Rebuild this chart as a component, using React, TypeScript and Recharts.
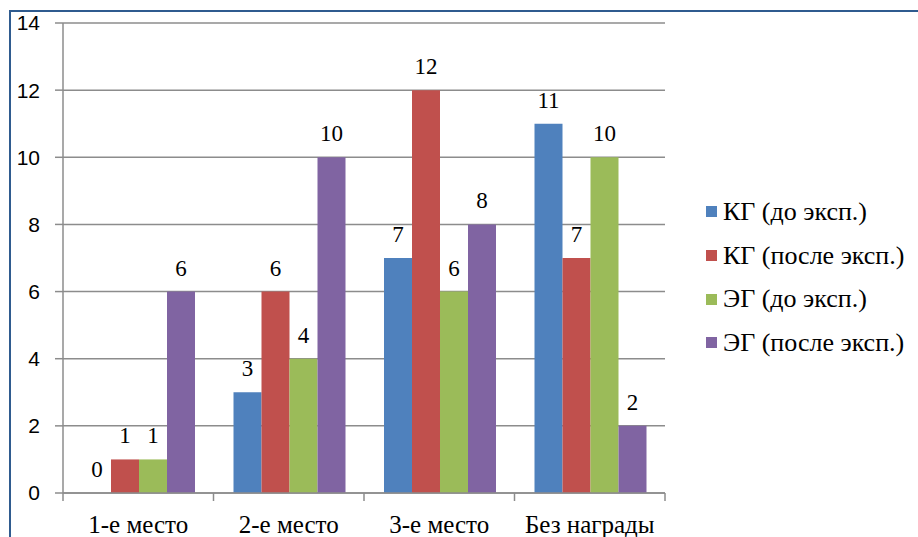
import { BarChart, Bar, XAxis, YAxis, CartesianGrid, Legend, LabelList } from "recharts";

const categories = ["1-е место", "2-е место", "3-е место", "Без награды"];
const kgBefore = [0, 3, 7, 11];
const kgAfter = [1, 6, 12, 7];
const egBefore = [1, 4, 6, 10];
const egAfter = [6, 10, 8, 2];
const seriesNames = ["КГ (до эксп.)", "КГ (после эксп.)", "ЭГ (до эксп.)", "ЭГ (после эксп.)"];
const yTicks = [0, 2, 4, 6, 8, 10, 12, 14];

const colors = ["#4f81bd", "#c0504d", "#9bbb59", "#8064a2"];
const serif = "'Times New Roman', Tinos, serif";
const sans = "'Liberation Sans', Arial, sans-serif";
const gridColor = "#8c8c8c";

const data = categories.map((name, i) => ({
  name,
  s0: kgBefore[i],
  s1: kgAfter[i],
  s2: egBefore[i],
  s3: egAfter[i],
}));

// x tick: label plus Excel-style tick marks between categories
const CategoryTick = (props: any) => {
  const { x, y, payload, index, width, visibleTicksCount } = props;
  const half = (Number(width) || 602) / (visibleTicksCount || 4) / 2;
  return (
    <g>
      <line x1={x - half} x2={x - half} y1={y - 8} y2={y} stroke={gridColor} strokeWidth={1.5} />
      {index === (visibleTicksCount || 4) - 1 && (
        <line x1={x + half} x2={x + half} y1={y - 8} y2={y} stroke={gridColor} strokeWidth={1.5} />
      )}
      <text x={x} y={y} dy={32} textAnchor="middle" style={{ fontFamily: serif }} fontSize={25} fill="#000">
        {payload.value}
      </text>
    </g>
  );
};

const ValueLabel = (props: any) => {
  const { x, y, width, height, value } = props;
  const top = height < 0 ? y + height : y;
  return (
    <text x={x + width / 2} y={top - 16} textAnchor="middle" style={{ fontFamily: serif }} fontSize={23} fill="#000">
      {value}
    </text>
  );
};

const renderLegend = (props: any) => {
  const items = props.payload || [];
  return (
    <div style={{ paddingLeft: 41, fontFamily: serif, fontSize: 26, color: "#000" }}>
      {items.map((it: any) => (
        <div key={it.value} style={{ display: "flex", alignItems: "center", height: 43.7 }}>
          <span style={{ width: 11, height: 11, background: it.color, marginRight: 6, flexShrink: 0 }} />
          <span style={{ whiteSpace: "nowrap" }}>{it.value}</span>
        </div>
      ))}
    </div>
  );
};

export default function App() {
  return (
    <div style={{ position: "absolute", left: 0, top: 0, width: 918, height: 537, background: "#fff", overflow: "hidden" }}>
      <div
        style={{
          position: "absolute",
          left: 9,
          top: 10,
          right: -5,
          bottom: -5,
          borderTop: "2px solid #2f5b8f",
          borderLeft: "2px solid #2f5b8f",
        }}
      />
      <BarChart
        width={918}
        height={537}
        data={data}
        margin={{ top: 23, right: 0, left: 0, bottom: 0 }}
        barCategoryGap={20}
        barGap={0}
      >
        <CartesianGrid vertical={false} stroke={gridColor} strokeWidth={1.5} />
        <XAxis
          dataKey="name"
          height={44}
          tickSize={8}
          tickMargin={0}
          tickLine={false}
          axisLine={{ stroke: gridColor, strokeWidth: 1.5 }}
          tick={<CategoryTick />}
          interval={0}
        />
        <YAxis
          width={63}
          domain={[0, 14]}
          ticks={yTicks}
          tickSize={8}
          tickMargin={15}
          axisLine={{ stroke: gridColor, strokeWidth: 1.5 }}
          tickLine={{ stroke: gridColor, strokeWidth: 1.5 }}
          tick={{ fontFamily: sans, fontSize: 21, fill: "#000" }}
        />
        <Legend
          layout="vertical"
          align="right"
          verticalAlign="middle"
          content={renderLegend}
          wrapperStyle={{ width: 253, top: 190 }}
        />
        {["s0", "s1", "s2", "s3"].map((key, i) => (
          <Bar
            key={key}
            dataKey={key}
            name={seriesNames[i]}
            fill={colors[i]}
            minPointSize={0.01}
            isAnimationActive={false}
          >
            <LabelList dataKey={key} content={<ValueLabel />} />
          </Bar>
        ))}
      </BarChart>
    </div>
  );
}
